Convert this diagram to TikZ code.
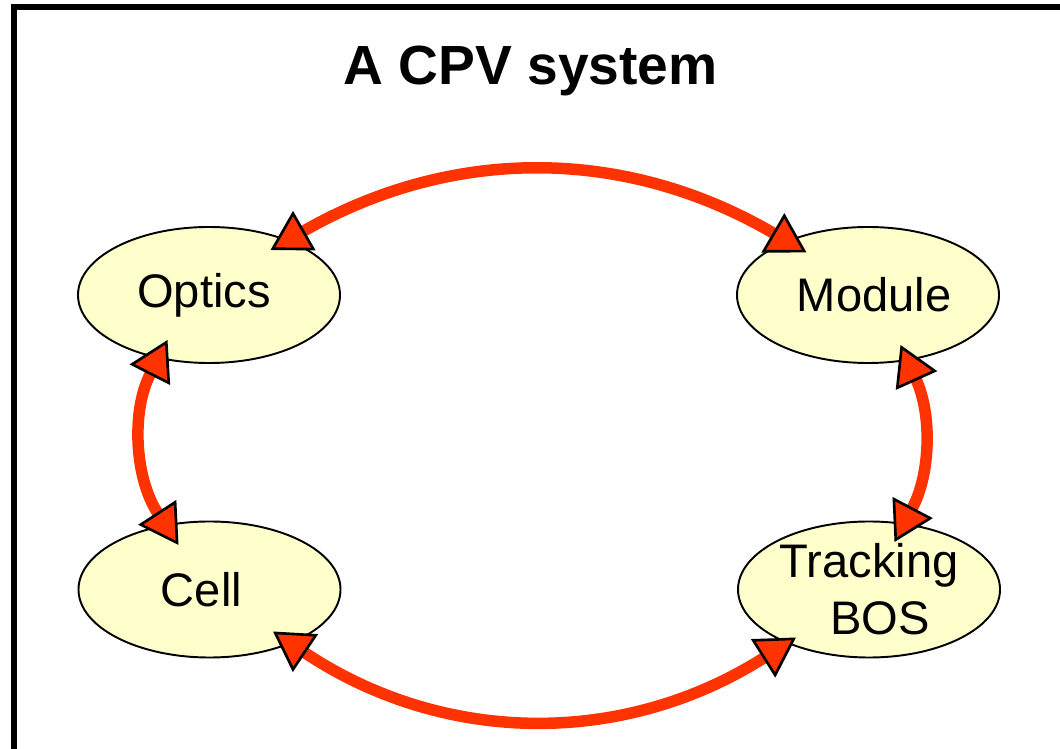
\documentclass[tikz,border=0pt]{standalone}
\usepackage{fontspec}
\setmainfont{Liberation Sans}
\usepackage{tikz}
\usetikzlibrary{shapes, arrows.meta, positioning, calc}

\definecolor{arrowred}{HTML}{FF3300}
\definecolor{partyellow}{HTML}{FFFFCC}

\begin{document}
\begin{tikzpicture}[
    part/.style={ellipse, draw=black, line width=1.1pt, fill=partyellow,
        minimum width=5.24cm, minimum height=2.72cm, inner sep=0pt,
        align=center, font=\fontsize{26.8}{32.3}\selectfont},
    link/.style={arrowred, line width=0.23cm, <->,
        >={Triangle[length=0.78cm, width=0.9cm, color=black, fill=arrowred, line width=1.5pt]}}
]
    \path[use as bounding box, clip] (0,0) rectangle (21.2,14.96);

    % Frame
    \draw[line width=0.12cm] (0.284,-1) -- (0.284,14.814) -- (22,14.814);

    % Title
    \node[font=\bfseries\fontsize{31.4}{36}\selectfont, anchor=base] (title) at (10.61,13.26) {A CPV system};

    % Parts of the system
    \node[part] (optics) at (4.18,9.06) {Optics\hspace{0.2cm}};
    \node[part] (module) at (17.36,9.06) {\hspace{0.24cm}Module};
    \node[part] (cell) at (4.19,3.17) {Cell\hspace{0.32cm}};
    \node[part] (tracking) at (17.38,3.17) {Tracking\\\hspace{0.45cm}BOS};

    % Links
    \draw[link] ($(optics.center)+(1.23,0.90)$) to[bend left=30] ($(module.center)+(-1.23,0.85)$);
    \draw[link] ($(optics.center)+(-0.83,-0.90)$) to[bend right=30] ($(cell.center)+(-0.62,0.89)$);
    \draw[link] ($(module.center)+(0.65,-1.00)$) to[bend left=26] ($(tracking.center)+(0.51,0.95)$);
    \draw[link] ($(cell.center)+(1.27,-0.84)$) to[bend right=33] ($(tracking.center)+(-1.46,-0.96)$);
\end{tikzpicture}
\end{document}
